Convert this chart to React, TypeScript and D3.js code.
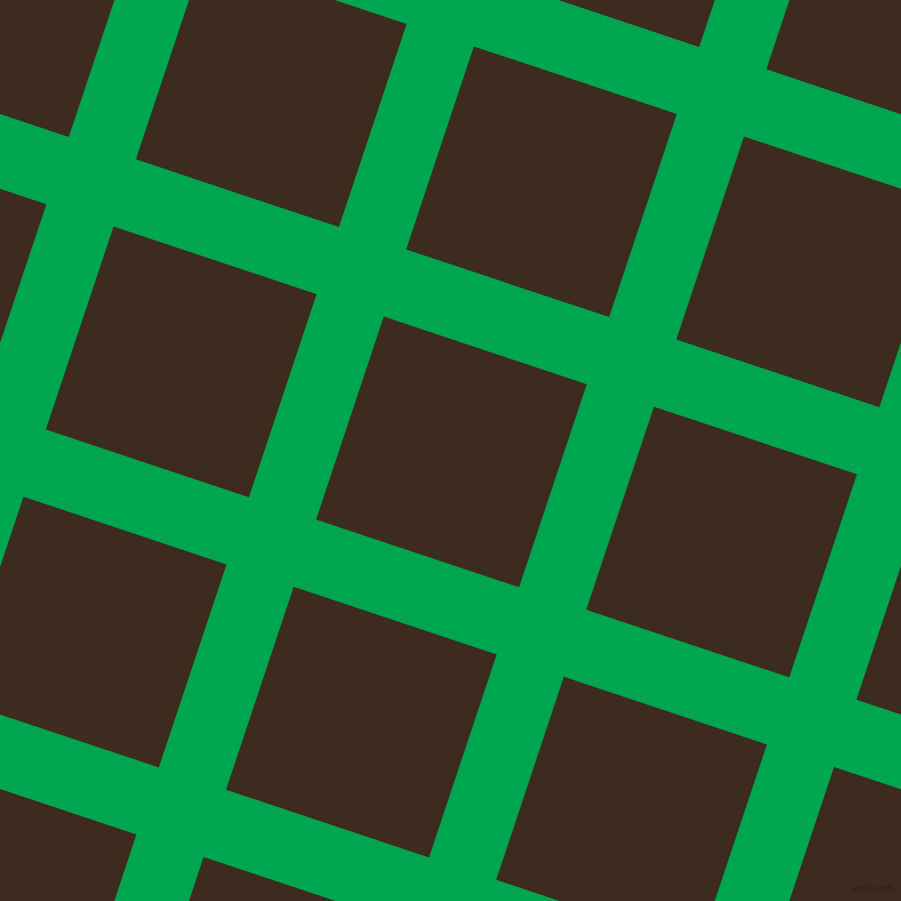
import { useEffect, useRef } from 'react';
import * as d3 from 'd3';

// grid indices of the tiles, in the rotated frame
const cols = [-3, -2, -1, 0, 1, 2, 3];
const rows = [-3, -2, -1, 0, 1, 2, 3];

const background = '#00a54f';
const tileColor = '#3d2b1f';
const watermark = 'pixlis.com';

export default function App() {
  const svgRef = useRef<SVGSVGElement | null>(null);

  useEffect(() => {
    if (!svgRef.current) return;
    d3.select(svgRef.current).selectAll('*').remove();

    const width = 901;
    const height = 901;
    const period = 284.8;
    const side = 214;
    const angle = (Math.atan(1 / 3) * 180) / Math.PI;

    const svg = d3.select(svgRef.current)
      .attr('width', width)
      .attr('height', height);

    svg.append('rect')
      .attr('width', width)
      .attr('height', height)
      .attr('fill', background);

    const pos = d3.scaleLinear().domain([0, 1]).range([0, period]);

    const grid = svg.append('g')
      .attr('transform', `translate(473.8,46.4) rotate(${angle})`);

    const cells = rows.flatMap(r => cols.map(c => ({ r, c })));

    grid.selectAll('rect')
      .data(cells)
      .enter()
      .append('rect')
      .attr('x', d => pos(d.c))
      .attr('y', d => pos(d.r))
      .attr('width', side)
      .attr('height', side)
      .attr('fill', tileColor);

    svg.append('text')
      .attr('x', 893)
      .attr('y', 891)
      .attr('text-anchor', 'end')
      .style('font-family', 'DejaVu Sans, sans-serif')
      .style('font-size', '8px')
      .style('fill', '#2a1d14')
      .text(watermark);
  }, []);

  return (
    <div style={{ position: 'fixed', left: 0, top: 0 }}>
      <svg ref={svgRef}></svg>
    </div>
  );
}
